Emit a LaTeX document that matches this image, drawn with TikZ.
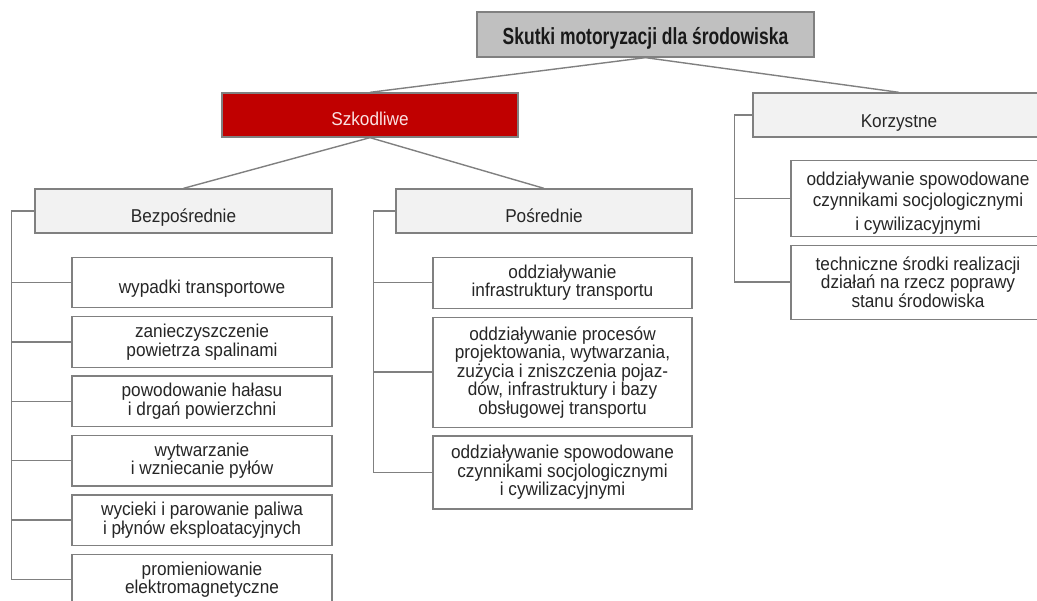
\documentclass[tikz,border=0pt]{standalone}
\usepackage{fontspec}
\setmainfont[FakeStretch=0.925]{Liberation Sans}
\newfontfamily\rootfont[FakeStretch=0.75]{Liberation Sans}
\usetikzlibrary{positioning}
\definecolor{linegray}{RGB}{128,128,128}
\definecolor{rootgray}{RGB}{192,192,192}
\definecolor{harmred}{RGB}{192,0,0}
\definecolor{headbg}{RGB}{242,242,242}
\definecolor{harmtext}{RGB}{250,226,226}
\tikzset{
  rootbox/.style={rectangle, draw=linegray, line width=1.3pt, fill=rootgray,
    minimum width=337pt, minimum height=45pt, text=black!90,
    text height=21pt, text depth=0pt,
    font=\rootfont\fontsize{23.3}{24}\selectfont\bfseries},
  groupbox/.style={rectangle, draw=linegray, line width=1.3pt, fill=headbg,
    minimum width=296pt, minimum height=44pt, text=black!85,
    text height=23pt, text depth=0pt,
    font=\fontsize{18.6}{18.5}\selectfont},
  leaf/.style={rectangle, draw=linegray, line width=1.3pt, fill=white,
    minimum width=260pt, minimum height=50.5pt, align=center, inner sep=2pt,
    text=black!85, font=\fontsize{18.6}{18.5}\selectfont},
  conn/.style={draw=linegray, line width=1.4pt},
}
\begin{document}
\begin{tikzpicture}[x=1pt, y=-1pt, node distance=7.6pt]
  \clip (0,0) rectangle (1037,601);
  \node[rootbox] (root) at (645.5,34.5) {Skutki motoryzacji dla środowiska};
  \node[groupbox, fill=harmred, text=harmtext, text height=21pt] (harm) at (370,115) {Szkodliwe};
  \node[groupbox, minimum width=292pt, text height=25pt] (good) at (899,115) {Korzystne};
  \node[groupbox, minimum width=297pt] (direct) at (183.5,211) {Bezpośrednie};
  \node[groupbox] (indirect) at (544,211) {Pośrednie};

  % bezposrednie
  \node[leaf, text height=22pt, text depth=0pt, below right=23pt and 37pt of direct.south west] (d1) {wypadki transportowe};
  \node[leaf, below=of d1] (d2) {zanieczyszczenie\\powietrza spalinami};
  \node[leaf, below=of d2] (d3) {powodowanie hałasu\\i drgań powierzchni};
  \node[leaf, below=of d3] (d4) {wytwarzanie\\i wzniecanie pyłów};
  \node[leaf, below=of d4] (d5) {wycieki i parowanie paliwa\\i płynów eksploatacyjnych};
  \node[leaf, below=of d5] (d6) {promieniowanie\\elektromagnetyczne};

  % posrednie
  \node[leaf, minimum width=259pt, minimum height=51pt, below right=23pt and 37pt of indirect.south west] (i1) {oddziaływanie\\infrastruktury transportu};
  \node[leaf, minimum width=259pt, minimum height=110pt, below=of i1] (i2) {oddziaływanie procesów\\projektowania, wytwarzania,\\zużycia i zniszczenia pojaz-\\dów, infrastruktury i bazy\\obsługowej transportu};
  \node[leaf, minimum width=259pt, minimum height=73pt, below=of i2] (i3) {oddziaływanie spowodowane\\czynnikami socjologicznymi\\i cywilizacyjnymi};

  % korzystne
  \node[leaf, minimum width=254pt, minimum height=76pt, below right=22pt and 38pt of good.south west] (k1) {\rule{0pt}{23pt}oddziaływanie spowodowane\\[3pt]czynnikami socjologicznymi\\[5pt]i cywilizacyjnymi};
  \node[leaf, minimum width=254pt, minimum height=74pt, below=of k1] (k2) {techniczne środki realizacji\\działań na rzecz poprawy\\stanu środowiska};

  \draw[conn] (root.south) -- (harm.north);
  \draw[conn] (root.south) -- (good.north);
  \draw[conn] (harm.south) -- (direct.north);
  \draw[conn] (harm.south) -- (indirect.north);

  \coordinate (drail) at ([xshift=-23pt]direct.west);
  \coordinate (irail) at ([xshift=-22pt]indirect.west);
  \coordinate (krail) at ([xshift=-18pt]good.west);
  \draw[conn] (direct.west) -- (drail) |- (d6.west);
  \draw[conn] (indirect.west) -- (irail) |- (i3.west);
  \draw[conn] (good.west) -- (krail) |- (k2.west);
  \foreach \n in {d1,d2,d3,d4,d5}
    \draw[conn] (drail |- \n.west) -- (\n.west);
  \foreach \n in {i1,i2}
    \draw[conn] (irail |- \n.west) -- (\n.west);
  \draw[conn] (krail |- k1.west) -- (k1.west);
\end{tikzpicture}
\end{document}
